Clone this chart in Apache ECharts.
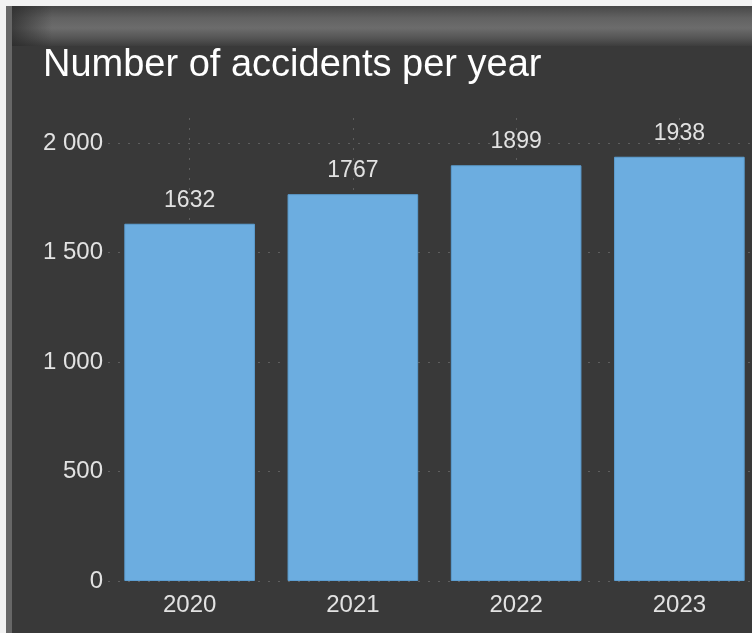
<!DOCTYPE html>
<html>
<head>
<meta charset="utf-8">
<script src="https://cdn.jsdelivr.net/npm/echarts@6/dist/echarts.min.js"></script>
<style>
  html, body { margin: 0; padding: 0; background: #f2f2f2; overflow: hidden; width: 752px; height: 633px; }
  .frame { position: absolute; left: 6px; top: 6px; width: 746px; height: 627px; background: #393939; border-left: 6px solid #676767; box-sizing: border-box; }
  .header { position: absolute; left: 0; top: 0; right: 0; height: 40px;
    background: linear-gradient(to bottom, #474747 0%, #626262 30%, #6c6c6c 55%, #555 80%, #3d3d3d 100%); }
  .header::after { content: ""; position: absolute; left: 0; top: 0; bottom: 0; width: 40px;
    background: linear-gradient(to right, rgba(40,40,40,0.7), rgba(40,40,40,0)); }
  #chart { position: absolute; left: 0; top: 0; width: 770px; height: 633px; }
</style>
</head>
<body>
<div class="frame"><div class="header"></div></div>
<div id="chart"></div>
<script>
const title = "Number of accidents per year";
const years = ["2020", "2021", "2022", "2023"];
const accidents = [1632, 1767, 1899, 1938];
const yTicks = [0, 500, 1000, 1500, 2000];

const chart = echarts.init(document.getElementById("chart"), null, { renderer: "canvas" });

const dotted = { color: "#5e5e5e", width: 1, type: [2, 8] };

// half-band points: odd indices fall on the bar centres
const guidePoints = years.flatMap((y) => ["", y]).concat([""]);

chart.setOption({
  backgroundColor: "transparent",
  animation: false,
  title: {
    text: title,
    left: 38,
    top: 42,
    textStyle: { color: "#ffffff", fontFamily: "Liberation Sans, Arial, sans-serif", fontSize: 38, fontWeight: "normal" },
  },
  // chart canvas is wider than the window so the last bar's band runs off the edge
  grid: { left: 108, right: 9, top: 118, bottom: 52 },
  xAxis: [
    {
      type: "category",
      data: years,
      axisLine: { show: false },
      axisTick: { show: false },
      splitLine: { show: false },
      axisLabel: { color: "#e2e2e2", fontSize: 24, fontFamily: "Liberation Sans, Arial, sans-serif", margin: 12 },
    },
    {
      // vertical dotted guides through the bar centres
      type: "category",
      data: guidePoints,
      boundaryGap: false,
      position: "bottom",
      axisLine: { show: false },
      axisTick: { show: false },
      axisLabel: { show: false },
      splitLine: { show: true, interval: (i) => i % 2 === 1, lineStyle: dotted },
    },
  ],
  yAxis: {
    type: "value",
    min: yTicks[0],
    max: 2115,
    interval: 500,
    axisLine: { show: false },
    axisTick: { show: false },
    axisLabel: {
      color: "#e2e2e2",
      fontSize: 24,
      fontFamily: "Liberation Sans, Arial, sans-serif",
      margin: 5,
      showMaxLabel: false,
      formatter: (v) => (yTicks.includes(v) ? String(v).replace(/\B(?=(\d{3})+(?!\d))/g, " ") : ""),
    },
    splitLine: { show: true, showMaxLine: false, lineStyle: dotted },
  },
  series: [
    {
      type: "bar",
      data: accidents,
      xAxisIndex: 0,
      barCategoryGap: "20%",
      itemStyle: { color: "#6cade0", borderColor: "#5d9fd2", borderWidth: 1 },
      label: {
        show: true,
        position: "top",
        distance: 12,
        color: "#e2e2e2",
        fontSize: 23,
        fontFamily: "Liberation Sans, Arial, sans-serif",
      },
      z: 3,
    },
  ],
});
</script>
</body>
</html>
